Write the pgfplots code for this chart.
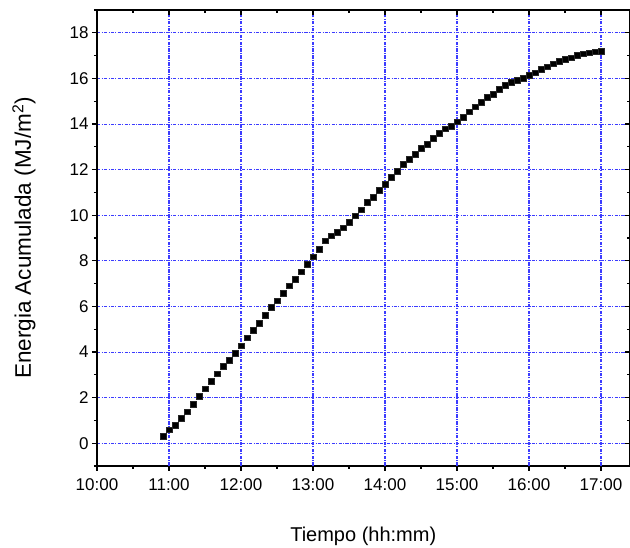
\documentclass[border=0pt]{standalone}
\usepackage{pgfplots}
\pgfplotsset{compat=1.18}
\usepackage{fontspec}
\setmainfont{Liberation Sans}
\definecolor{gridblue}{RGB}{60,60,255}
\begin{document}
\begin{tikzpicture}[x=1pt,y=1pt]
\useasboundingbox (0,0) rectangle (630,548);
\pgfplotsset{common/.style={
  at={(97pt,82pt)}, anchor=south west, scale only axis,
  width=532.5pt, height=456pt,
  xmin=600, xmax=1043.75, ymin=-1, ymax=19,
  xtick={600,660,...,1020}, minor xtick={630,690,...,990},
  ytick={0,2,...,18}, minor ytick={-1,1,...,19},
  major tick length=5pt, minor tick length=3pt,
  axis line style={line width=1.3pt},
  every tick/.style={line width=1.2pt},
}}
\begin{axis}[common,
  xtick pos=left, ytick pos=left, tick align=outside,
  xticklabels={10:00,11:00,12:00,13:00,14:00,15:00,16:00,17:00},
  /pgf/number format/assume math mode=true,
  ticklabel style={font=\fontsize{17}{17}\selectfont},
  xticklabel style={yshift=-4pt},
  ymajorgrids,
  every major grid/.style={draw=gridblue, line width=0.9pt, dash pattern=on 3.5pt off 1.2pt on 1pt off 1.2pt},
  xlabel={Tiempo (hh:mm)},
  xlabel style={font=\fontsize{20}{20}\selectfont, at={(axis description cs:0.5,-0.1535)}, anchor=center},
  ylabel={Energia Acumulada (MJ/m\textsuperscript{2})},
  ylabel style={font=\fontsize{22.5}{22.5}\selectfont, at={(axis description cs:-0.137,0.5)}, anchor=center},
]
\pgfplotsinvokeforeach{660,720,780,840,900,960,1020}{
  \draw[gridblue, line width=1.1pt, dash pattern=on 3.5pt off 1.2pt on 1pt off 1.2pt]
    (axis cs:#1,-1) -- (axis cs:#1,19);
}
\addplot[only marks, mark=square*, mark size=2.9pt, mark options={fill=black, draw=black!85}] coordinates {
(655,0.31) (660,0.59) (665,0.78) (670,1.11) (675,1.38) (680,1.71) (685,2.05) (690,2.39)
(695,2.73) (700,3.05) (705,3.38) (710,3.63) (715,3.96) (720,4.28) (725,4.63) (730,4.95)
(735,5.27) (740,5.61) (745,5.95) (750,6.25) (755,6.59) (760,6.91) (765,7.19) (770,7.52)
(775,7.86) (780,8.18) (785,8.51) (790,8.88) (795,9.10) (800,9.24) (805,9.45) (810,9.70)
(815,9.98) (820,10.24) (825,10.58) (830,10.78) (835,11.09) (840,11.37) (845,11.66) (850,11.94)
(855,12.22) (860,12.47) (865,12.69) (870,12.95) (875,13.10) (880,13.39) (885,13.61) (890,13.79)
(895,13.90) (900,14.10) (905,14.30) (910,14.54) (915,14.76) (920,14.96) (925,15.18) (930,15.32)
(935,15.52) (940,15.69) (945,15.85) (950,15.91) (955,16.00) (960,16.13) (965,16.25) (970,16.40)
(975,16.51) (980,16.64) (985,16.75) (990,16.84) (995,16.91) (1000,17.01) (1005,17.08) (1010,17.13)
(1015,17.17) (1020,17.19)
};
\end{axis}
\begin{axis}[common,
  xtick pos=right, ytick pos=right, tick align=inside,
  xticklabels={}, yticklabels={},
  axis line style={draw=none},
]
\addplot[draw=none] coordinates {(700,5)};
\end{axis}
\end{tikzpicture}
\end{document}
